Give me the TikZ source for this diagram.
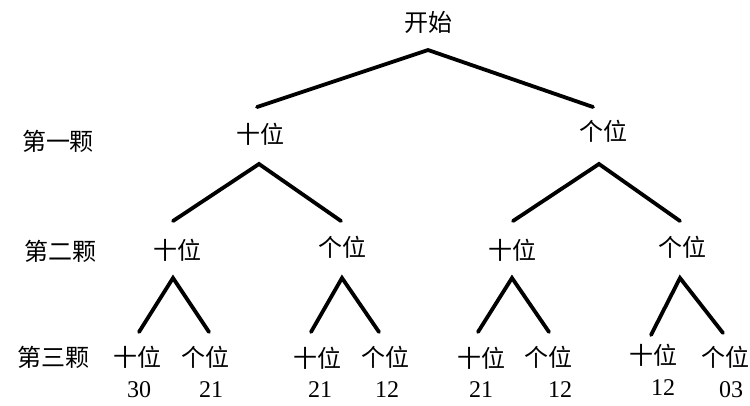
\documentclass[tikz,border=0pt]{standalone}
\usepackage{fontspec}
\setmainfont{Liberation Serif}
\newfontfamily\cjk{Noto Sans CJK SC}
\begin{document}
\begin{tikzpicture}[x=1pt,y=-1pt,
  lbl/.style={font=\cjk\fontsize{24}{26}\selectfont,inner sep=0pt,anchor=center},
  num/.style={font=\fontsize{24}{26}\selectfont,inner sep=0pt,anchor=center},
  br/.style={line width=3.8pt,line cap=round}]
\useasboundingbox (0,0) rectangle (750,405);
% labels
\node[lbl] (start) at (428,22) {开始};
\node[lbl] (r1) at (58,141) {第一颗};
\node[lbl] (r2) at (60,251) {第二颗};
\node[lbl] (r3) at (53,357) {第三颗};
\node[lbl] (a) at (260,134) {十位};
\node[lbl] (b) at (603,131) {个位};
\node[lbl] (aa) at (177,250) {十位};
\node[lbl] (ab) at (342,247) {个位};
\node[lbl] (ba) at (512,250) {十位};
\node[lbl] (bb) at (682,247) {个位};
\node[lbl] (aaa) at (137,357) {十位};
\node[lbl] (aab) at (205,357) {个位};
\node[lbl] (aba) at (317,358) {十位};
\node[lbl] (abb) at (385,357) {个位};
\node[lbl] (baa) at (481,358) {十位};
\node[lbl] (bab) at (548,357) {个位};
\node[lbl] (bba) at (653,355) {十位};
\node[lbl] (bbb) at (725,357) {个位};
\node[num] (n1) at (139,390) {30};
\node[num] (n2) at (211,390) {21};
\node[num] (n3) at (320,390) {21};
\node[num] (n4) at (387,390) {12};
\node[num] (n5) at (481,390) {21};
\node[num] (n6) at (560,390) {12};
\node[num] (n7) at (663,388) {12};
\node[num] (n8) at (731,390) {03};
% branch points
\coordinate (s0) at (428,50);
\coordinate (s1) at (257,107);
\coordinate (s2) at (593,107);
\coordinate (a0) at (259,164);
\coordinate (a1) at (173,221);
\coordinate (a2) at (341,221);
\coordinate (b0) at (599,164);
\coordinate (b1) at (513,221);
\coordinate (b2) at (680,221);
\coordinate (c0) at (173,278);
\coordinate (c1) at (139,332);
\coordinate (c2) at (209,332);
\coordinate (d0) at (342,278);
\coordinate (d1) at (311,332);
\coordinate (d2) at (379,332);
\coordinate (e0) at (512,278);
\coordinate (e1) at (478,332);
\coordinate (e2) at (549,332);
\coordinate (f0) at (680,278);
\coordinate (f1) at (651,335);
\coordinate (f2) at (723,333);
\draw[br] (s1) -- (s0) -- (s2);
\draw[br] (a1) -- (a0) -- (a2);
\draw[br] (b1) -- (b0) -- (b2);
\draw[br] (c1) -- (c0) -- (c2);
\draw[br] (d1) -- (d0) -- (d2);
\draw[br] (e1) -- (e0) -- (e2);
\draw[br] (f1) -- (f0) -- (f2);
\end{tikzpicture}
\end{document}
